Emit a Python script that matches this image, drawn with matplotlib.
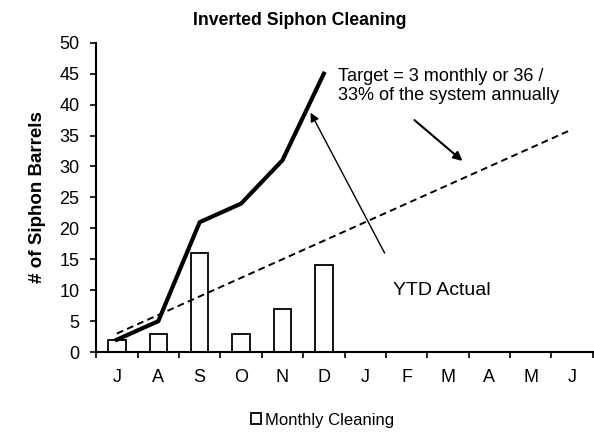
import numpy as np
import matplotlib.pyplot as plt

plt.rcParams['font.family'] = ['Liberation Sans', 'DejaVu Sans']

months = ['J', 'A', 'S', 'O', 'N', 'D', 'J', 'F', 'M', 'A', 'M', 'J']
monthly = [2, 3, 16, 3, 7, 14]
ytd = [2, 5, 21, 24, 31, 45]
target = [3, 6, 9, 12, 15, 18, 21, 24, 27, 30, 33, 36]

x = np.arange(len(months))

fig = plt.figure(figsize=(5.94, 4.32), dpi=100)
ax = fig.add_axes([0.162, 0.185, 0.836, 0.716])

ax.bar(x[:len(monthly)], monthly, width=0.42, color='white', edgecolor='black',
       linewidth=1.3, label='Monthly Cleaning', zorder=2)
ax.plot(x, target, '--', color='black', linewidth=1.4, dashes=(3.5, 2.2), zorder=3)
ax.plot(x[:len(ytd)], ytd, '-', color='black', linewidth=3.0, zorder=4)

ax.set_xlim(-0.5, len(months) - 0.5)
ax.set_ylim(0, 50)
ax.set_yticks(range(0, 51, 5))
ax.tick_params(axis='y', labelsize=13, length=4, width=1.2, pad=8)
ax.set_xticks(x)
ax.set_xticklabels(months, fontsize=13)
ax.tick_params(axis='x', length=0, pad=12)
ax.set_xticks(np.arange(-0.5, len(months), 1), minor=True)
ax.tick_params(axis='x', which='minor', length=4, width=1.2)

for s in ['top', 'right']:
    ax.spines[s].set_visible(False)
ax.spines['left'].set_linewidth(1.5)
ax.spines['bottom'].set_linewidth(1.5)

fig.suptitle('Inverted Siphon Cleaning', x=0.505, y=0.972, fontsize=12.7,
             fontweight='bold', va='top')
ax.set_ylabel('# of Siphon Barrels', fontsize=13.5, fontweight='bold', labelpad=10)

ax.text(5.35, 46.0, 'Target = 3 monthly or 36 /\n33% of the system annually',
        fontsize=13.1, va='top', ha='left', linespacing=1.2)
ax.annotate('', xy=(8.35, 30.9), xytext=(7.19, 37.5),
            arrowprops=dict(arrowstyle='-|>', color='black', lw=1.5,
                            mutation_scale=13, shrinkA=0, shrinkB=0))
ax.text(6.67, 10.0, 'YTD Actual', fontsize=14, va='center', ha='left')
ax.annotate('', xy=(4.68, 38.7), xytext=(6.47, 16.0),
            arrowprops=dict(arrowstyle='-|>', color='black', lw=1.0,
                            mutation_scale=13, shrinkA=0, shrinkB=0))

ax.legend(loc='center', bbox_to_anchor=(0.456, -0.22), frameon=False,
          fontsize=12, handlelength=0.6, handleheight=0.6, handletextpad=0.2)

fig.savefig('out.png', dpi=100)
